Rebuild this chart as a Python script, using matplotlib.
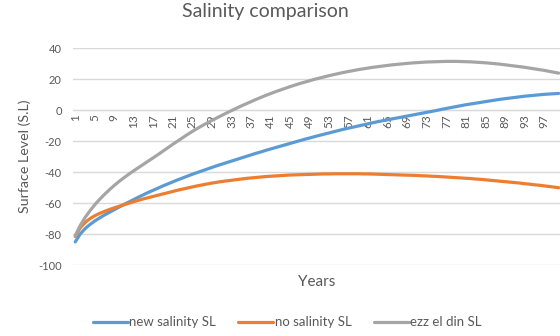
import matplotlib
matplotlib.use("Agg")
import matplotlib.pyplot as plt
import numpy as np

plt.rcParams['font.family'] = ['Lato', 'DejaVu Sans']
plt.rcParams['axes.unicode_minus'] = False

years = list(range(1, 101))

new_salinity = [
    -85.0, -80.0, -76.5, -73.8, -71.5, -69.5, -67.6, -65.9, -64.2, -62.5,
    -60.8, -59.2, -57.6, -56.0, -54.5, -53.0, -51.6, -50.2, -48.8, -47.5,
    -46.2, -44.9, -43.7, -42.5, -41.3, -40.2, -39.1, -38.0, -36.9, -35.8,
    -34.8, -33.8, -32.8, -31.8, -30.8, -29.8, -28.8, -27.8, -26.9, -25.9,
    -25.0, -24.1, -23.2, -22.3, -21.4, -20.5, -19.6, -18.7, -17.9, -17.0,
    -16.2, -15.4, -14.6, -13.8, -13.0, -12.2, -11.5, -10.8, -10.1, -9.4,
    -8.7, -8.0, -7.3, -6.7, -6.1, -5.5, -4.9, -4.3, -3.7, -3.1,
    -2.5, -1.9, -1.3, -0.7, -0.1, 0.6, 1.2, 1.8, 2.4, 3.0,
    3.6, 4.1, 4.6, 5.1, 5.6, 6.1, 6.6, 7.1, 7.5, 7.9,
    8.3, 8.7, 9.1, 9.4, 9.7, 10.0, 10.3, 10.5, 10.7, 10.9,
]

no_salinity = [
    -81.5, -76.0, -72.5, -70.0, -68.1, -66.6, -65.3, -64.1, -63.0, -62.0,
    -61.0, -60.0, -59.0, -58.1, -57.2, -56.4, -55.6, -54.8, -54.0, -53.2,
    -52.4, -51.6, -50.9, -50.2, -49.5, -48.8, -48.2, -47.6, -47.0, -46.5,
    -46.0, -45.6, -45.2, -44.8, -44.4, -44.0, -43.7, -43.4, -43.1, -42.8,
    -42.6, -42.4, -42.2, -42.0, -41.8, -41.7, -41.6, -41.5, -41.4, -41.3,
    -41.2, -41.1, -41.1, -41.0, -41.0, -41.0, -41.0, -41.0, -41.0, -41.1,
    -41.1, -41.2, -41.3, -41.4, -41.5, -41.6, -41.7, -41.8, -41.9, -42.0,
    -42.1, -42.3, -42.4, -42.6, -42.7, -42.9, -43.1, -43.3, -43.5, -43.7,
    -43.9, -44.1, -44.4, -44.6, -44.9, -45.2, -45.5, -45.8, -46.1, -46.4,
    -46.7, -47.0, -47.4, -47.7, -48.1, -48.4, -48.8, -49.2, -49.6, -50.0,
]

ezz_el_din = [
    -81.0, -74.5, -69.3, -65.0, -61.0, -57.5, -54.3, -51.3, -48.5, -45.9,
    -43.5, -41.2, -39.0, -36.9, -34.8, -32.7, -30.6, -28.5, -26.3, -24.1,
    -21.9, -19.8, -17.7, -15.6, -13.6, -11.7, -9.9, -8.2, -6.5, -4.9,
    -3.3, -1.7, -0.2, 1.3, 2.8, 4.2, 5.6, 7.0, 8.3, 9.6,
    10.8, 12.0, 13.1, 14.2, 15.3, 16.3, 17.3, 18.2, 19.1, 20.0,
    20.8, 21.6, 22.4, 23.1, 23.8, 24.5, 25.1, 25.7, 26.3, 26.8,
    27.3, 27.8, 28.2, 28.6, 29.0, 29.4, 29.7, 30.0, 30.3, 30.6,
    30.8, 31.0, 31.2, 31.3, 31.4, 31.5, 31.6, 31.6, 31.6, 31.5,
    31.4, 31.3, 31.1, 30.9, 30.7, 30.4, 30.1, 29.8, 29.4, 29.0,
    28.6, 28.2, 27.8, 27.3, 26.8, 26.3, 25.8, 25.2, 24.6, 24.0,
]

text_col = '#595959'
grid_col = '#D9D9D9'

fig = plt.figure(figsize=(5.6, 3.36), dpi=100)
ax = fig.add_axes([0.130, 0.211, 0.872, 0.645])

ax.plot(years, new_salinity, color='#5B9BD5', lw=2.3, label='new salinity SL',
        solid_capstyle='round')
ax.plot(years, no_salinity, color='#ED7D31', lw=2.3, label='no salinity SL',
        solid_capstyle='round')
ax.plot(years, ezz_el_din, color='#A5A5A5', lw=2.3, label='ezz el din SL',
        solid_capstyle='round')

ax.set_xlim(0.5, 100.5)
ax.set_ylim(-100, 40)
ax.set_yticks(np.arange(-100, 41, 20))
ax.set_xticks(years[::4])
ax.set_xticklabels([str(y) for y in years[::4]])

ax.grid(axis='y', color=grid_col, lw=1)
ax.set_axisbelow(True)
for side in ['top', 'right', 'left']:
    ax.spines[side].set_visible(False)
ax.spines['bottom'].set_position(('data', 0))
ax.spines['bottom'].set_color(grid_col)
ax.spines['bottom'].set_zorder(0)

ax.tick_params(axis='x', length=0, pad=3, labelsize=8.5, labelcolor=text_col,
               labelrotation=90)
ax.tick_params(axis='y', length=0, pad=8, labelsize=8, labelcolor=text_col)

ax.set_ylabel('Surface Level (S.L)', fontsize=10.3, color=text_col, labelpad=5)
ax.text(0.5, -0.045, 'Years', transform=ax.transAxes, ha='center', va='top',
        fontsize=11, color=text_col)

fig.suptitle('Salinity comparison', x=0.473, y=0.99, fontsize=14,
             color=text_col)

fig.legend(loc='lower center', bbox_to_anchor=(0.513, -0.012), ncol=3,
           frameon=False, fontsize=9.5, handlelength=2.65, columnspacing=1.7,
           handletextpad=0.1, labelcolor=text_col)

fig.savefig('out.png', dpi=100, facecolor='white')
